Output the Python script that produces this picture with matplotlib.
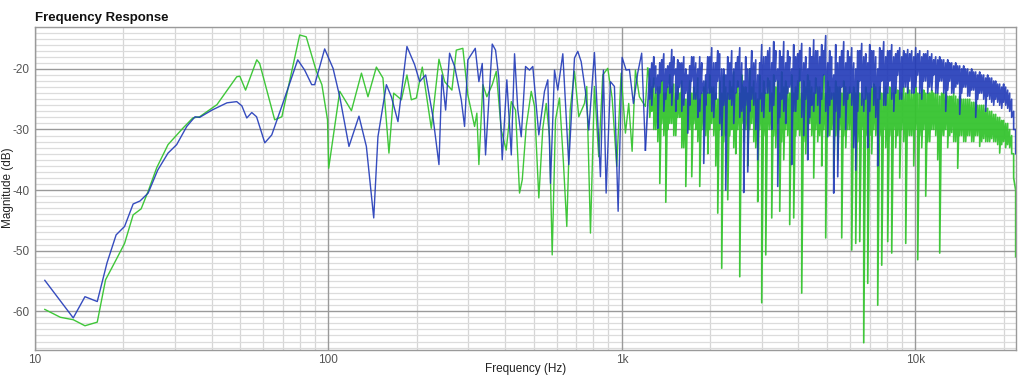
import matplotlib
matplotlib.use("Agg")
import matplotlib.pyplot as plt
from matplotlib.ticker import FixedLocator
import numpy as np

plt.rcParams['font.family'] = ['Liberation Sans', 'DejaVu Sans']

# ---------------- data ----------------
# Blue series, low / mid frequency part
blue_freq_lo = [10.8, 13.5, 14.8, 16.3, 17.6, 18.9, 20.2, 21.6, 22.8, 24.3, 26.2, 28.4, 30.4,
                32.9, 35.1, 36.4, 40.1, 45.1, 48.7, 50.7, 52.7, 54.8, 56.9, 60.7, 64.1, 69.9,
                78.6, 83.0, 87.7, 89.8, 97.1]
blue_db_lo = [-54.9, -61.1, -57.6, -58.4, -52.0, -47.4, -46.0, -42.3, -41.8, -40.5, -36.7, -33.9, -32.5,
              -29.5, -27.9, -28.0, -26.8, -25.6, -25.4, -26.1, -28.1, -27.2, -27.9, -32.2, -30.9, -25.7,
              -18.5, -20.2, -22.6, -22.6, -16.7]

blue_freq_mid = [103.7, 109.3, 117.5, 127.1, 134.7, 142.7, 147.5, 157.6, 163.9, 172.6, 185.2, 196.7,
                 204.6, 214.5, 227.1, 238.1, 243.7, 250.9, 258.8, 269.2, 283.7, 291.1, 298.7, 316.6,
                 325.7, 334.4, 343.2, 361.7, 371.2, 380.9, 391.2, 405.6, 420.0, 430.9, 442.2, 454.1,
                 469.7, 484.6, 497.3, 521.3, 545.1, 559.4, 571.4, 589.6, 605.0, 629.3, 659.5, 689.7,
                 707.7, 726.8, 751.6, 771.4, 806.6, 845.4, 865.5, 884.1, 914.5, 943.6, 971.4, 1002.3,
                 1034.2, 1061.4, 1095.1, 1132.6, 1168.6, 1203.0]
blue_db_mid = [-19.9, -24.6, -32.8, -27.8, -32.8, -44.6, -31.2, -22.6, -24.6, -28.7, -16.3, -19.3,
               -22.1, -21.0, -27.9, -35.8, -21.0, -26.8, -17.4, -19.6, -25.1, -29.5, -18.5, -16.6,
               -22.1, -19.1, -34.2, -15.9, -16.9, -21.5, -35.0, -21.8, -34.2, -17.5, -26.8, -31.2,
               -19.6, -20.2, -19.6, -30.9, -23.7, -21.8, -38.9, -20.2, -23.5, -17.5, -35.8, -18.2,
               -17.1, -18.8, -23.7, -30.1, -17.3, -37.8, -20.2, -40.5, -22.1, -22.9, -43.5, -18.1,
               -20.2, -20.1, -25.7, -20.7, -17.4, -33.4]

# Green series, low / mid frequency part
green_freq_lo = [10.8, 12.2, 13.5, 14.8, 16.3, 17.4, 18.9, 20.2, 21.6, 23.0, 24.3, 26.0, 28.4, 31.9,
                 34.5, 36.4, 41.7, 48.7, 49.9, 52.2, 57.0, 58.3, 65.6, 69.4, 79.8, 84.0, 91.0, 95.0,
                 99.3, 100.2]
green_db_lo = [-59.7, -61.0, -61.4, -62.4, -61.8, -54.8, -51.5, -48.8, -44.1, -43.1, -40.2, -36.3, -32.5, -29.8,
               -28.1, -27.9, -25.9, -21.3, -21.2, -23.5, -18.5, -19.1, -28.4, -27.9, -14.4, -14.7, -20.4, -22.6,
               -28.4, -36.4]

green_freq_mid = [109.3, 119.8, 129.6, 136.4, 145.7, 153.4, 160.8, 166.9, 177.3, 185.2, 191.7, 199.4,
                  208.9, 224.2, 238.1, 248.9, 263.6, 272.8, 287.2, 298.7, 314.9, 320.6, 325.7, 336.0,
                  346.7, 361.7, 373.3, 388.2, 403.6, 420.0, 434.3, 448.1, 457.8, 472.3, 491.2, 504.1,
                  521.3, 537.9, 552.5, 567.0, 579.0, 594.2, 613.1, 632.6, 649.3, 666.8, 689.7, 713.3,
                  745.9, 759.4, 781.8, 806.6, 834.3, 861.0, 895.4, 926.8, 960.7, 994.5, 1028.7, 1055.6,
                  1084.2, 1112.5, 1147.8, 1203.0, 1225.0]
green_db_mid = [-23.7, -26.9, -20.7, -24.6, -19.7, -21.5, -33.9, -24.0, -25.1, -21.0, -25.1, -24.8,
                -19.7, -29.8, -18.4, -22.1, -23.5, -16.9, -16.6, -24.3, -29.5, -27.3, -35.8, -22.6,
                -24.6, -22.6, -20.4, -30.1, -33.4, -25.4, -26.8, -40.5, -38.3, -29.5, -23.7, -26.2,
                -41.3, -29.8, -25.7, -31.2, -50.7, -28.4, -24.8, -35.6, -46.0, -26.8, -20.4, -27.9,
                -25.7, -22.9, -47.1, -22.9, -34.5, -21.0, -19.9, -24.8, -36.1, -20.7, -30.6, -25.7,
                -33.6, -20.2, -24.6, -26.2, -19.9]

# Dense high-frequency part: shared frequency list, upper and lower swing per frequency
hf_freq = [1245, 1265, 1285, 1305, 1326, 1347, 1368, 1390, 1412, 1434,
           1457, 1480, 1503, 1527, 1551, 1576, 1601, 1626, 1652, 1678,
           1704, 1731, 1759, 1786, 1815, 1843, 1872, 1902, 1932, 1963,
           1994, 2025, 2057, 2090, 2123, 2156, 2190, 2225, 2260, 2296,
           2332, 2369, 2407, 2445, 2483, 2523, 2563, 2603, 2644, 2686,
           2729, 2772, 2816, 2860, 2905, 2951, 2998, 3045, 3094, 3143,
           3192, 3243, 3294, 3346, 3399, 3453, 3507, 3563, 3619, 3676,
           3734, 3793, 3853, 3914, 3976, 4039, 4103, 4168, 4234, 4301,
           4369, 4438, 4508, 4580, 4652, 4726, 4800, 4876, 4953, 5032,
           5111, 5192, 5274, 5358, 5443, 5529, 5616, 5705, 5795, 5887,
           5980, 6075, 6171, 6269, 6368, 6469, 6571, 6675, 6781, 6888,
           6997, 7108, 7220, 7334, 7450, 7568, 7688, 7809, 7933, 8058,
           8186, 8315, 8447, 8580, 8716, 8854, 8994, 9136, 9281, 9427,
           9577, 9728, 9882, 10038, 10197, 10358, 10522, 10688, 10857, 11029,
           11203, 11380, 11560, 11743, 11929, 12117, 12309, 12503, 12701, 12902,
           13106, 13313, 13523, 13737, 13954, 14175, 14399, 14627, 14858, 15093,
           15331, 15573, 15820, 16070, 16324, 16582, 16844, 17110, 17380, 17655,
           17934, 18218, 18506, 18798, 19095, 19397, 19704, 20015, 20332, 20653,
           20979, 21311, 21648, 21990]

blue_hi_hf = [-20, -19, -18, -19.5, -21, -19, -18.5, -17.5, -20, -19.5,
              -19, -16.8, -18, -20, -18.5, -19, -19, -18, -20, -21,
              -19.5, -18, -18, -19, -20, -18, -19, -22, -21, -18,
              -18, -16.5, -19, -19, -17, -17.5, -20, -20, -21, -18,
              -19, -17, -20, -19, -18, -16.5, -19, -22, -18, -20,
              -20, -17, -19, -18.5, -21, -19, -16, -18, -18, -17,
              -16.5, -19, -15.5, -17, -20, -17, -18, -15.5, -19, -17,
              -18, -20, -16, -18, -17.5, -17, -15.8, -19, -18, -20,
              -16.5, -18, -15.2, -17, -17, -18, -16, -17, -14.5, -19,
              -17, -18, -21, -16, -19, -18, -17, -15.5, -19, -17,
              -18, -16.5, -19, -20, -17, -17, -15.8, -18, -17.5, -19,
              -16, -17, -17, -18, -20, -16.5, -17, -15.5, -18, -17,
              -17, -16, -18, -17.5, -17, -16.5, -18, -17, -17.5, -16.8,
              -17.5, -17, -18, -16.5, -17.5, -17, -18, -17.5, -17.5, -17,
              -18, -17.5, -18.5, -18, -18.5, -18, -18.5, -18.5, -19, -18.5,
              -19, -19, -19.5, -19, -19.5, -19.5, -20, -19.5, -20, -20,
              -20.5, -20, -20.5, -20.5, -21, -20.5, -21, -21, -21.5, -21,
              -21.5, -21.5, -22, -22, -22.5, -22.5, -23, -22.5, -23, -23.5,
              -24, -25, -27, -30]
blue_lo_hf = [-25, -26, -23, -24, -29.8, -24, -22, -27, -25, -23,
              -24, -26, -21, -27, -25, -23, -27, -26, -24, -30.6,
              -26, -22, -25, -25, -28, -27, -24, -35.6, -26, -24,
              -24, -27, -28, -25, -22, -29, -31, -26, -40, -25,
              -25, -26, -29, -24, -23, -28, -27, -40.4, -26, -37,
              -27, -25, -26, -30, -35, -25, -27, -28, -24, -24,
              -27, -30, -26, -22, -39.4, -28, -25, -27, -29, -24,
              -23, -35.8, -27, -27, -25, -22, -28, -31, -25, -35,
              -28, -26, -27, -24, -26, -29, -25, -21, -27, -31.2,
              -26, -25, -40.5, -27, -37.8, -28, -23, -26, -30, -25,
              -24, -26, -33, -36.7, -27, -22, -26, -27, -25, -33,
              -27, -23, -26, -28, -36, -25, -22, -26, -26, -24,
              -22, -25, -27, -24, -21, -25, -25, -23, -23, -24,
              -22, -24, -24, -23, -21, -24, -25, -22, -22, -24,
              -23, -23.5, -21, -24, -24, -22, -22, -24, -27, -23.5,
              -22, -24, -24, -23, -22.5, -27.5, -24, -23, -23, -24.5,
              -24.5, -23.5, -23.5, -28, -25, -24, -24, -25, -27, -24.5,
              -25, -25.5, -26, -25, -25.5, -26, -26.5, -25.5, -26, -26.5,
              -27, -28, -30, -34]

green_hi_hf = [-22, -23, -21.5, -24, -23, -23, -22, -24, -24, -23,
               -21, -23, -22.5, -24, -23, -24, -22, -25, -25, -24,
               -22, -24, -23, -24, -21.5, -25, -24, -23, -22, -24,
               -21, -23, -23, -24, -25, -22, -24, -21, -23, -24,
               -22, -23, -20.5, -24, -22, -24, -21, -23, -23, -24,
               -20, -23, -22, -24, -25, -21, -24, -22, -24, -21.5,
               -22, -24, -21, -23, -22, -24, -20.5, -23, -22, -23,
               -24, -21, -24, -23, -22, -20, -24, -22, -23, -21,
               -22, -23, -24, -21.5, -23, -23, -24, -21, -24, -22,
               -23, -24, -24, -22, -23, -23, -24, -22, -23, -24,
               -23, -24, -23, -24, -22, -24, -24, -25, -23, -24,
               -24, -23, -22.5, -23, -25, -23, -24, -24, -23, -24,
               -23, -24, -24, -23, -23.5, -24, -24, -23, -24, -23,
               -23.5, -24, -24, -23, -24, -24, -23.5, -23.5, -24, -24,
               -24, -23.5, -24, -24, -24, -24.5, -24, -24, -24, -24.5,
               -24.5, -24.5, -24, -24.5, -25, -24.5, -25, -25, -25, -25,
               -25, -25.5, -25.5, -25.5, -26, -26, -26, -26, -26.5, -26.5,
               -27, -27, -27.5, -27.5, -28, -28, -28.5, -28.5, -29, -29,
               -30, -31, -34, -40]
green_lo_hf = [-28, -27, -30, -30, -32, -38.9, -29, -31, -42, -30,
               -29, -29, -31, -31, -28, -28, -33, -33, -39.4, -30,
               -30, -37.8, -29, -30, -32, -39.4, -30, -30, -31, -34,
               -30, -29, -31, -36, -43.8, -30, -52.9, -32, -31, -41.6,
               -31, -30, -33, -34, -30, -54.3, -29, -32, -30, -36,
               -30, -29, -32, -33, -41.9, -30, -58.6, -31, -50.7, -30,
               -30, -44.6, -31, -33, -29, -43.5, -32, -35, -30, -31,
               -45.7, -30, -44.6, -31, -30, -31, -57, -32, -34, -30,
               -29, -31, -38, -30, -32, -31, -36, -30, -47.9, -31,
               -31, -30, -38, -31, -35, -30, -47.9, -31, -33, -30,
               -30, -49.9, -31, -48.8, -32, -48.5, -30, -65.2, -31, -55.4,
               -31, -34, -30, -31, -59, -31, -52.4, -30, -33, -48.5,
               -31, -50.4, -30, -33, -31, -38, -30, -32, -48.8, -31,
               -31, -31, -36, -30, -51.5, -31, -33, -30, -41, -32,
               -32, -30, -30, -31, -35, -50.4, -31, -31, -30, -33,
               -31, -30.5, -32, -32, -36.4, -31, -31, -32, -32, -31,
               -31, -32, -32, -31, -31, -32.8, -32, -31.5, -32, -32,
               -32, -31.5, -32, -32, -32.5, -33.9, -32.5, -32, -33, -32.5,
               -33, -34, -38, -51]

x_ticks = [10, 100, 1000, 10000]
x_tick_labels = ["10", "100", "1k", "10k"]
y_ticks = [-60, -50, -40, -30, -20]


def swing(hi, lo):
    return list(np.column_stack([hi, lo]).ravel())


# ---------------- assemble ----------------
hf_f2 = list(np.repeat(hf_freq, 2))
blue_f_a = np.array(blue_freq_lo + blue_freq_mid, dtype=float)
blue_m_a = np.array(blue_db_lo + blue_db_mid, dtype=float)
blue_f_b = np.array(blue_freq_mid[-1:] + hf_f2, dtype=float)
blue_m_b = np.array(blue_db_mid[-1:] + swing(blue_hi_hf, blue_lo_hf), dtype=float)
green_f_a = np.array(green_freq_lo + green_freq_mid, dtype=float)
green_m_a = np.array(green_db_lo + green_db_mid, dtype=float)
green_f_b = np.array(green_freq_mid[-1:] + hf_f2, dtype=float)
green_m_b = np.array(green_db_mid[-1:] + swing(green_hi_hf, green_lo_hf), dtype=float)

W, H = 1022, 379
fig = plt.figure(figsize=(W / 100, H / 100), dpi=100)
ax = fig.add_axes([35 / W, 1 - 350 / H, (1016 - 35) / W, (350 - 26.5) / H])

ax.set_xscale('log')
ax.set_xlim(10, 22050)
ax.set_ylim(-66.4, -13.0)

# grid
minor_x = [m * 10 ** d for d in range(1, 5) for m in range(2, 10) if m * 10 ** d < 22050]
for xv in minor_x:
    ax.axvline(xv, color='#d6d6d6', lw=0.9, zorder=0)
for xv in x_ticks:
    ax.axvline(xv, color='#9a9a9a', lw=1.0, zorder=0.5)
for yv in range(-66, -12):
    if yv % 10 == 0:
        continue
    ax.axhline(yv, color='#dcdcdc', lw=0.9, zorder=0)
for yv in y_ticks:
    ax.axhline(yv, color='#9a9a9a', lw=1.0, zorder=0.5)

green_c, blue_c = '#35c42f', '#2039b8'
ax.plot(green_f_a, green_m_a, color=green_c, lw=1.0, zorder=2, alpha=0.95)
ax.plot(green_f_b, green_m_b, color=green_c, lw=1.2, zorder=2, alpha=0.95)
ax.plot(blue_f_a, blue_m_a, color=blue_c, lw=1.0, zorder=3, alpha=0.9)
ax.plot(blue_f_b, blue_m_b, color=blue_c, lw=1.2, zorder=3, alpha=0.9)

ax.xaxis.set_major_locator(FixedLocator(x_ticks))
ax.xaxis.set_minor_locator(FixedLocator([]))
ax.set_xticklabels(x_tick_labels)
ax.yaxis.set_major_locator(FixedLocator(y_ticks))
ax.yaxis.set_minor_locator(FixedLocator([]))
ax.set_yticklabels([str(v) for v in y_ticks])
ax.tick_params(axis='both', length=0, labelsize=8.5, labelcolor='#555555')
ax.tick_params(axis='x', pad=3)
ax.tick_params(axis='y', pad=4)

for s in ['top', 'left', 'right', 'bottom']:
    ax.spines[s].set_color('#9a9a9a')
    ax.spines[s].set_linewidth(1.0)

fig.text(525.5 / W, 1 - 369 / H, "Frequency (Hz)", fontsize=8.5, color='#222222',
         ha='center', va='center')
fig.text(8 / W, 1 - 188 / H, "Magnitude (dB)", fontsize=8.5, color='#222222',
         ha='center', va='center', rotation=90)
fig.text(35 / W, 1 - 18 / H, "Frequency Response", fontsize=9.5, fontweight='bold',
         ha='left', va='center', color='#111111')

fig.savefig("out.png", dpi=100, facecolor='white')
